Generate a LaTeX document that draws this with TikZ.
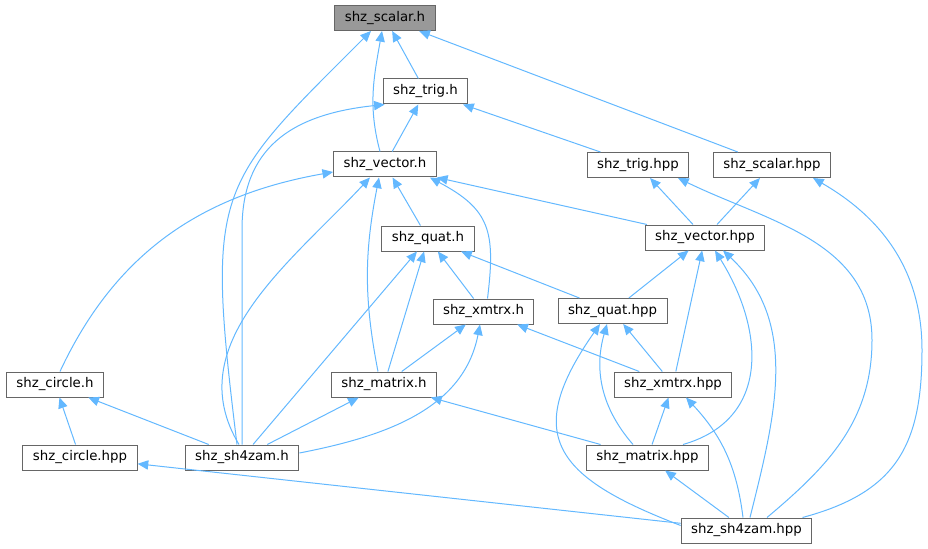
\documentclass[tikz,border=0pt]{standalone}
\usepackage{fontspec}
\setmainfont{DejaVu Sans}
\usetikzlibrary{arrows.meta}
\definecolor{edgeblue}{HTML}{63B8FF}
\definecolor{boxgray}{HTML}{666666}
\definecolor{rootgray}{HTML}{999999}

\begin{document}
\begin{tikzpicture}[x=0.75pt,y=0.75pt,
    header/.style ={rectangle, draw=boxgray, fill=white, line width=0.75pt, inner xsep=7.5pt, inner ysep=0pt, minimum height=18.75pt, font=\fontsize{10}{12}\selectfont},
    root/.style ={header, fill=rootgray},
    dep/.style ={draw=edgeblue, line width=0.75pt, -{Triangle[length=8pt,width=7pt]}}]
   \useasboundingbox (0,0) rectangle (928,-549);
   \node[root]   (scalarh)   at (385,-18)    {shz\_scalar.h};
   \node[header] (trigh)     at (425.5,-91.5) {shz\_trig.h};
   \node[header] (vech)      at (385,-164.5) {shz\_vector.h};
   \node[header] (trighpp)   at (638,-165)   {shz\_trig.hpp};
   \node[header] (scalarhpp) at (772,-165)   {shz\_scalar.hpp};
   \node[header] (vechpp)    at (705,-237.5) {shz\_vector.hpp};
   \node[header] (quath)     at (428,-238.5) {shz\_quat.h};
   \node[header] (xmtrxh)    at (483.5,-311.5) {shz\_xmtrx.h};
   \node[header] (quathpp)   at (612.5,-311) {shz\_quat.hpp};
   \node[header] (circleh)   at (55,-384.5)  {shz\_circle.h};
   \node[header] (matrixh)   at (384,-384.5) {shz\_matrix.h};
   \node[header] (xmtrxhpp)  at (673,-384.5) {shz\_xmtrx.hpp};
   \node[header] (circlehpp) at (80,-457.5)  {shz\_circle.hpp};
   \node[header] (sh4zamh)   at (242,-457.5) {shz\_sh4zam.h};
   \node[header] (matrixhpp) at (647.5,-457.5) {shz\_matrix.hpp};
   \node[header] (sh4zamhpp) at (746.5,-530.5) {shz\_sh4zam.hpp};

   \draw[dep] (trigh) to (scalarh);
   \draw[dep] ([shift={(-5,0)}]vech.north) to [out=105,in=-100] ([shift={(-3,0)}]scalarh.south);
   \draw[dep] ([shift={(-5,0)}]sh4zamh.north) to [out=97,in=-135,out distance=195pt,in distance=165pt] ([shift={(-14,0)}]scalarh.south);
   \draw[dep] (scalarhpp) to (scalarh);

   \draw[dep] (vech) to (trigh);
   \draw[dep] (sh4zamh.north) -- ++(0,215) to [out=90,in=-174,out distance=60pt,in distance=72pt] ([shift={(2,0)}]trigh.south west);
   \draw[dep] (trighpp) to (trigh);

   \draw[dep] ([shift={(5,0)}]circleh.north) to [out=65,in=-170] ([shift={(0,-7.5)}]vech.west);
   \draw[dep] (quath) to (vech);
   \draw[dep] ([shift={(-6,0)}]matrixh.north) to [out=101,in=-101] ([shift={(-6,0)}]vech.south);
   \draw[dep] ([shift={(-3,0)}]sh4zamh.north) to [out=121,in=-133] ([shift={(-15,0)}]vech.south);
   \draw[dep] ([shift={(4,0)}]xmtrxh.north) to [out=83,in=-28,looseness=1.3] ([shift={(-7,0)}]vech.south east);
   \draw[dep] (vechpp) to (vech.south east);

   \draw[dep] (vechpp) to (trighpp);
   \draw[dep] ([shift={(20.5,0)}]sh4zamhpp.north) to [out=40,in=-90] (872,-340) to [out=90,in=-26] ([shift={(40,0)}]trighpp.south);
   \draw[dep] (vechpp) to (scalarhpp);
   \draw[dep] ([shift={(56,0)}]sh4zamhpp.north) to [out=15,in=-90,looseness=1.2] (922,-350) to [out=90,in=-30] ([shift={(41,0)}]scalarhpp.south);

   \draw[dep] (sh4zamh) to (quath);
   \draw[dep] (matrixh) to (quath);
   \draw[dep] (xmtrxh) to (quath);
   \draw[dep] (quathpp) to (quath);

   \draw[dep] (quathpp) to (vechpp);
   \draw[dep] (xmtrxhpp) to (vechpp);
   \draw[dep] ([shift={(35.5,0)}]matrixhpp.north) to [out=16,in=-58,looseness=1.2] ([shift={(10,0)}]vechpp.south);
   \draw[dep] ([shift={(3.5,0)}]sh4zamhpp.north) to [out=76,in=-43] ([shift={(18,0)}]vechpp.south);

   \draw[dep] (matrixh) to (xmtrxh);
   \draw[dep] ([shift={(0,4.5)}]sh4zamh.east) to [out=11,in=-101] ([shift={(-3.5,0)}]xmtrxh.south);
   \draw[dep] (xmtrxhpp) to (xmtrxh);

   \draw[dep] (xmtrxhpp) to (quathpp);
   \draw[dep] ([shift={(-14.5,0)}]matrixhpp.north) to [out=131,in=-106] ([shift={(-5.5,0)}]quathpp.south);
   \draw[dep] ([shift={(0,5)}]sh4zamhpp.west) to [out=159,in=-125,looseness=1.6] ([shift={(-12.5,0)}]quathpp.south);

   \draw[dep] (circlehpp) to (circleh);
   \draw[dep] (sh4zamh) to (circleh);
   \draw[dep] (sh4zamh) to (matrixh);
   \draw[dep] (matrixhpp) to (matrixh);
   \draw[dep] (matrixhpp) to (xmtrxhpp);
   \draw[dep] ([shift={(-3.5,0)}]sh4zamhpp.north) to [out=97,in=-47] ([shift={(13,0)}]xmtrxhpp.south);
   \draw[dep] (sh4zamhpp) to (circlehpp);
   \draw[dep] (sh4zamhpp) to (matrixhpp);
 \end{tikzpicture}
\end{document}
